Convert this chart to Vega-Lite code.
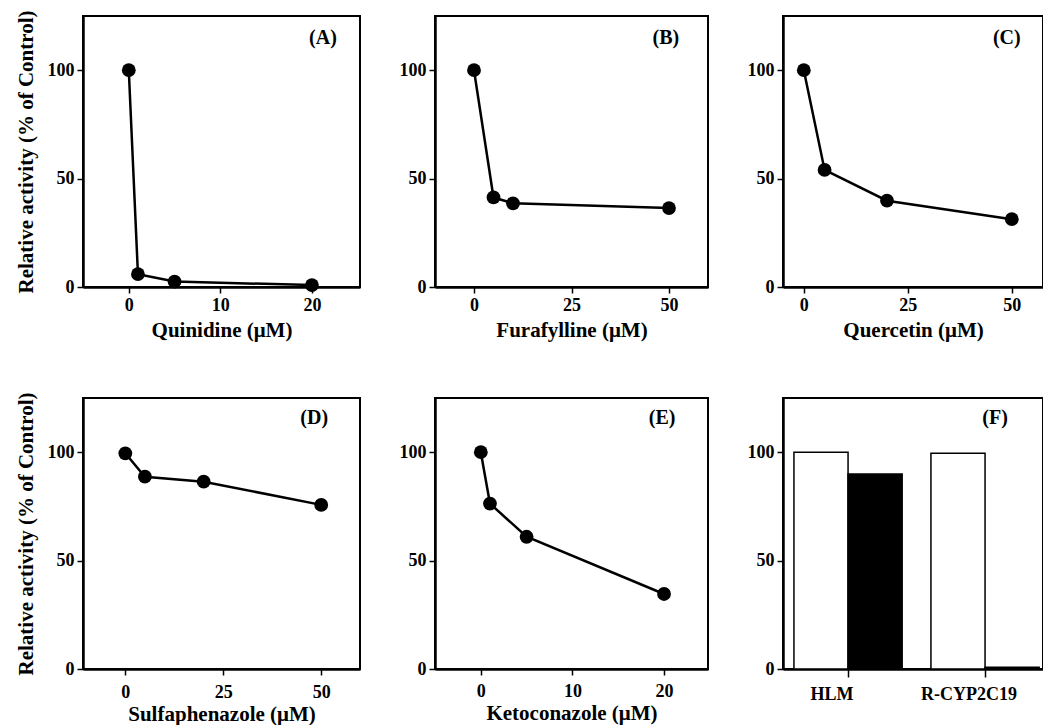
{
  "$schema": "https://vega.github.io/schema/vega-lite/v6.json",
  "background": "white",
  "padding": {"left": 13, "top": 8, "right": 0, "bottom": 0},
  "autosize": {"type": "pad"},
  "bounds": "flush",
  "columns": 3,
  "spacing": {"row": 111, "column": 75},
  "config": {
    "font": "Liberation Serif",
    "view": {"stroke": "black", "strokeWidth": 2},
    "axis": {
      "grid": false,
      "domainColor": "black",
      "domainWidth": 2.5,
      "tickColor": "black",
      "tickWidth": 1.5,
      "tickSize": 6,
      "labelFont": "Liberation Serif",
      "labelFontWeight": "bold",
      "labelFontSize": 18,
      "labelColor": "black",
      "labelPadding": 3,
      "titleFont": "Liberation Serif",
      "titleFontWeight": "bold",
      "titleFontSize": 21,
      "titleColor": "black"
    },
    "axisY": {"titleFontSize": 21, "titlePadding": 11},
    "text": {"font": "Liberation Serif", "fontWeight": "bold", "fontSize": 20, "color": "black", "align": "center", "baseline": "middle"}
  },
  "concat": [
    {
      "width": 277, "height": 271,
      "data": {"values": [
        {"conc": 0, "activity": 100},
        {"conc": 1, "activity": 5.9},
        {"conc": 5, "activity": 2.5},
        {"conc": 20, "activity": 0.9}
      ]},
      "layer": [
        {"mark": {"type": "line", "color": "black", "strokeWidth": 2.5},
         "encoding": {
          "x": {"field": "conc", "type": "quantitative", "scale": {"domain": [-5, 25.25], "nice": false, "zero": false}, "axis": {"values": [0, 10, 20], "title": "Quinidine (μM)", "labelPadding": 3, "titlePadding": 5}},
          "y": {"field": "activity", "type": "quantitative", "scale": {"domain": [0, 125], "nice": false}, "axis": {"values": [0, 50, 100], "title": "Relative activity (% of Control)"}}
         }},
        {"mark": {"type": "point", "filled": true, "color": "black", "size": 190, "opacity": 1},
         "encoding": {
          "x": {"field": "conc", "type": "quantitative"},
          "y": {"field": "activity", "type": "quantitative"}
         }},
        {"data": {"values": [{"label": "(A)"}]}, "mark": {"type": "text"}, "encoding": {"text": {"field": "label"}, "x": {"datum": 21.2}, "y": {"datum": 115}}}
      ]
    },
    {
      "width": 273, "height": 271,
      "data": {"values": [
        {"conc": 0, "activity": 100},
        {"conc": 5, "activity": 41.3},
        {"conc": 10, "activity": 38.6},
        {"conc": 50, "activity": 36.4}
      ]},
      "layer": [
        {"mark": {"type": "line", "color": "black", "strokeWidth": 2.5},
         "encoding": {
          "x": {"field": "conc", "type": "quantitative", "scale": {"domain": [-10, 60], "nice": false, "zero": false}, "axis": {"values": [0, 25, 50], "title": "Furafylline (μM)", "labelPadding": 3, "titlePadding": 5}},
          "y": {"field": "activity", "type": "quantitative", "scale": {"domain": [0, 125], "nice": false}, "axis": {"values": [0, 50, 100], "title": null}}
         }},
        {"mark": {"type": "point", "filled": true, "color": "black", "size": 190, "opacity": 1},
         "encoding": {
          "x": {"field": "conc", "type": "quantitative"},
          "y": {"field": "activity", "type": "quantitative"}
         }},
        {"data": {"values": [{"label": "(B)"}]}, "mark": {"type": "text"}, "encoding": {"text": {"field": "label"}, "x": {"datum": 49.2}, "y": {"datum": 115}}}
      ]
    },
    {
      "width": 260, "height": 271,
      "data": {"values": [
        {"conc": 0, "activity": 100},
        {"conc": 5, "activity": 54},
        {"conc": 20, "activity": 39.8},
        {"conc": 50, "activity": 31.3}
      ]},
      "layer": [
        {"mark": {"type": "line", "color": "black", "strokeWidth": 2.5},
         "encoding": {
          "x": {"field": "conc", "type": "quantitative", "scale": {"domain": [-5, 57.5], "nice": false, "zero": false}, "axis": {"values": [0, 25, 50], "title": "Quercetin (μM)", "labelPadding": 3, "titlePadding": 5}},
          "y": {"field": "activity", "type": "quantitative", "scale": {"domain": [0, 125], "nice": false}, "axis": {"values": [0, 50, 100], "title": null}}
         }},
        {"mark": {"type": "point", "filled": true, "color": "black", "size": 190, "opacity": 1},
         "encoding": {
          "x": {"field": "conc", "type": "quantitative"},
          "y": {"field": "activity", "type": "quantitative"}
         }},
        {"data": {"values": [{"label": "(C)"}]}, "mark": {"type": "text"}, "encoding": {"text": {"field": "label"}, "x": {"datum": 48.8}, "y": {"datum": 115}}}
      ]
    },
    {
      "width": 277, "height": 271,
      "data": {"values": [
        {"conc": 0, "activity": 99.5},
        {"conc": 5, "activity": 88.7},
        {"conc": 20, "activity": 86.4},
        {"conc": 50, "activity": 75.7}
      ]},
      "layer": [
        {"mark": {"type": "line", "color": "black", "strokeWidth": 2.5},
         "encoding": {
          "x": {"field": "conc", "type": "quantitative", "scale": {"domain": [-10.8, 59.9], "nice": false, "zero": false}, "axis": {"values": [0, 25, 50], "title": "Sulfaphenazole (μM)", "labelPadding": 8, "titlePadding": 2}},
          "y": {"field": "activity", "type": "quantitative", "scale": {"domain": [0, 125], "nice": false}, "axis": {"values": [0, 50, 100], "title": "Relative activity (% of Control)"}}
         }},
        {"mark": {"type": "point", "filled": true, "color": "black", "size": 190, "opacity": 1},
         "encoding": {
          "x": {"field": "conc", "type": "quantitative"},
          "y": {"field": "activity", "type": "quantitative"}
         }},
        {"data": {"values": [{"label": "(D)"}]}, "mark": {"type": "text"}, "encoding": {"text": {"field": "label"}, "x": {"datum": 48.2}, "y": {"datum": 116}}}
      ]
    },
    {
      "width": 273, "height": 271,
      "data": {"values": [
        {"conc": 0, "activity": 100},
        {"conc": 1, "activity": 76.3},
        {"conc": 5, "activity": 61},
        {"conc": 20, "activity": 34.6}
      ]},
      "layer": [
        {"mark": {"type": "line", "color": "black", "strokeWidth": 2.5},
         "encoding": {
          "x": {"field": "conc", "type": "quantitative", "scale": {"domain": [-5, 24.8], "nice": false, "zero": false}, "axis": {"values": [0, 10, 20], "title": "Ketoconazole (μM)", "labelPadding": 7, "titlePadding": 2}},
          "y": {"field": "activity", "type": "quantitative", "scale": {"domain": [0, 125], "nice": false}, "axis": {"values": [0, 50, 100], "title": null}}
         }},
        {"mark": {"type": "point", "filled": true, "color": "black", "size": 190, "opacity": 1},
         "encoding": {
          "x": {"field": "conc", "type": "quantitative"},
          "y": {"field": "activity", "type": "quantitative"}
         }},
        {"data": {"values": [{"label": "(E)"}]}, "mark": {"type": "text"}, "encoding": {"text": {"field": "label"}, "x": {"datum": 19.8}, "y": {"datum": 116}}}
      ]
    },
    {
      "width": 260, "height": 271,
      "data": {"values": [
        {"group": "HLM", "treatment": "Control", "activity": 100},
        {"group": "HLM", "treatment": "Inhibitor", "activity": 90},
        {"group": "R-CYP2C19", "treatment": "Control", "activity": 99.5},
        {"group": "R-CYP2C19", "treatment": "Inhibitor", "activity": 0.8}
      ]},
      "layer": [
        {
          "mark": {"type": "bar", "stroke": "black", "strokeWidth": 1.5},
          "encoding": {
            "x": {"field": "group", "type": "nominal", "sort": null, "scale": {"paddingInner": 0.21, "paddingOuter": 0.054, "align": 0.74}, "axis": {"title": null, "labelAngle": 0, "labelOffset": -16, "tickSize": 8, "labelPadding": 8}},
            "xOffset": {"field": "treatment", "type": "nominal", "scale": {"paddingInner": 0, "paddingOuter": 0}},
            "y": {"field": "activity", "type": "quantitative", "scale": {"domain": [0, 125], "nice": false}, "axis": {"values": [0, 50, 100], "title": null}},
            "fill": {"field": "treatment", "type": "nominal", "scale": {"domain": ["Control", "Inhibitor"], "range": ["white", "black"]}, "legend": null}
          }
        },
        {
          "data": {"values": [{"label": "(F)", "group": "R-CYP2C19"}]},
          "mark": {"type": "text", "dx": 10},
          "encoding": {"text": {"field": "label"}, "x": {"field": "group", "type": "nominal"}, "y": {"datum": 116}}
        }
      ]
    }
  ]
}
